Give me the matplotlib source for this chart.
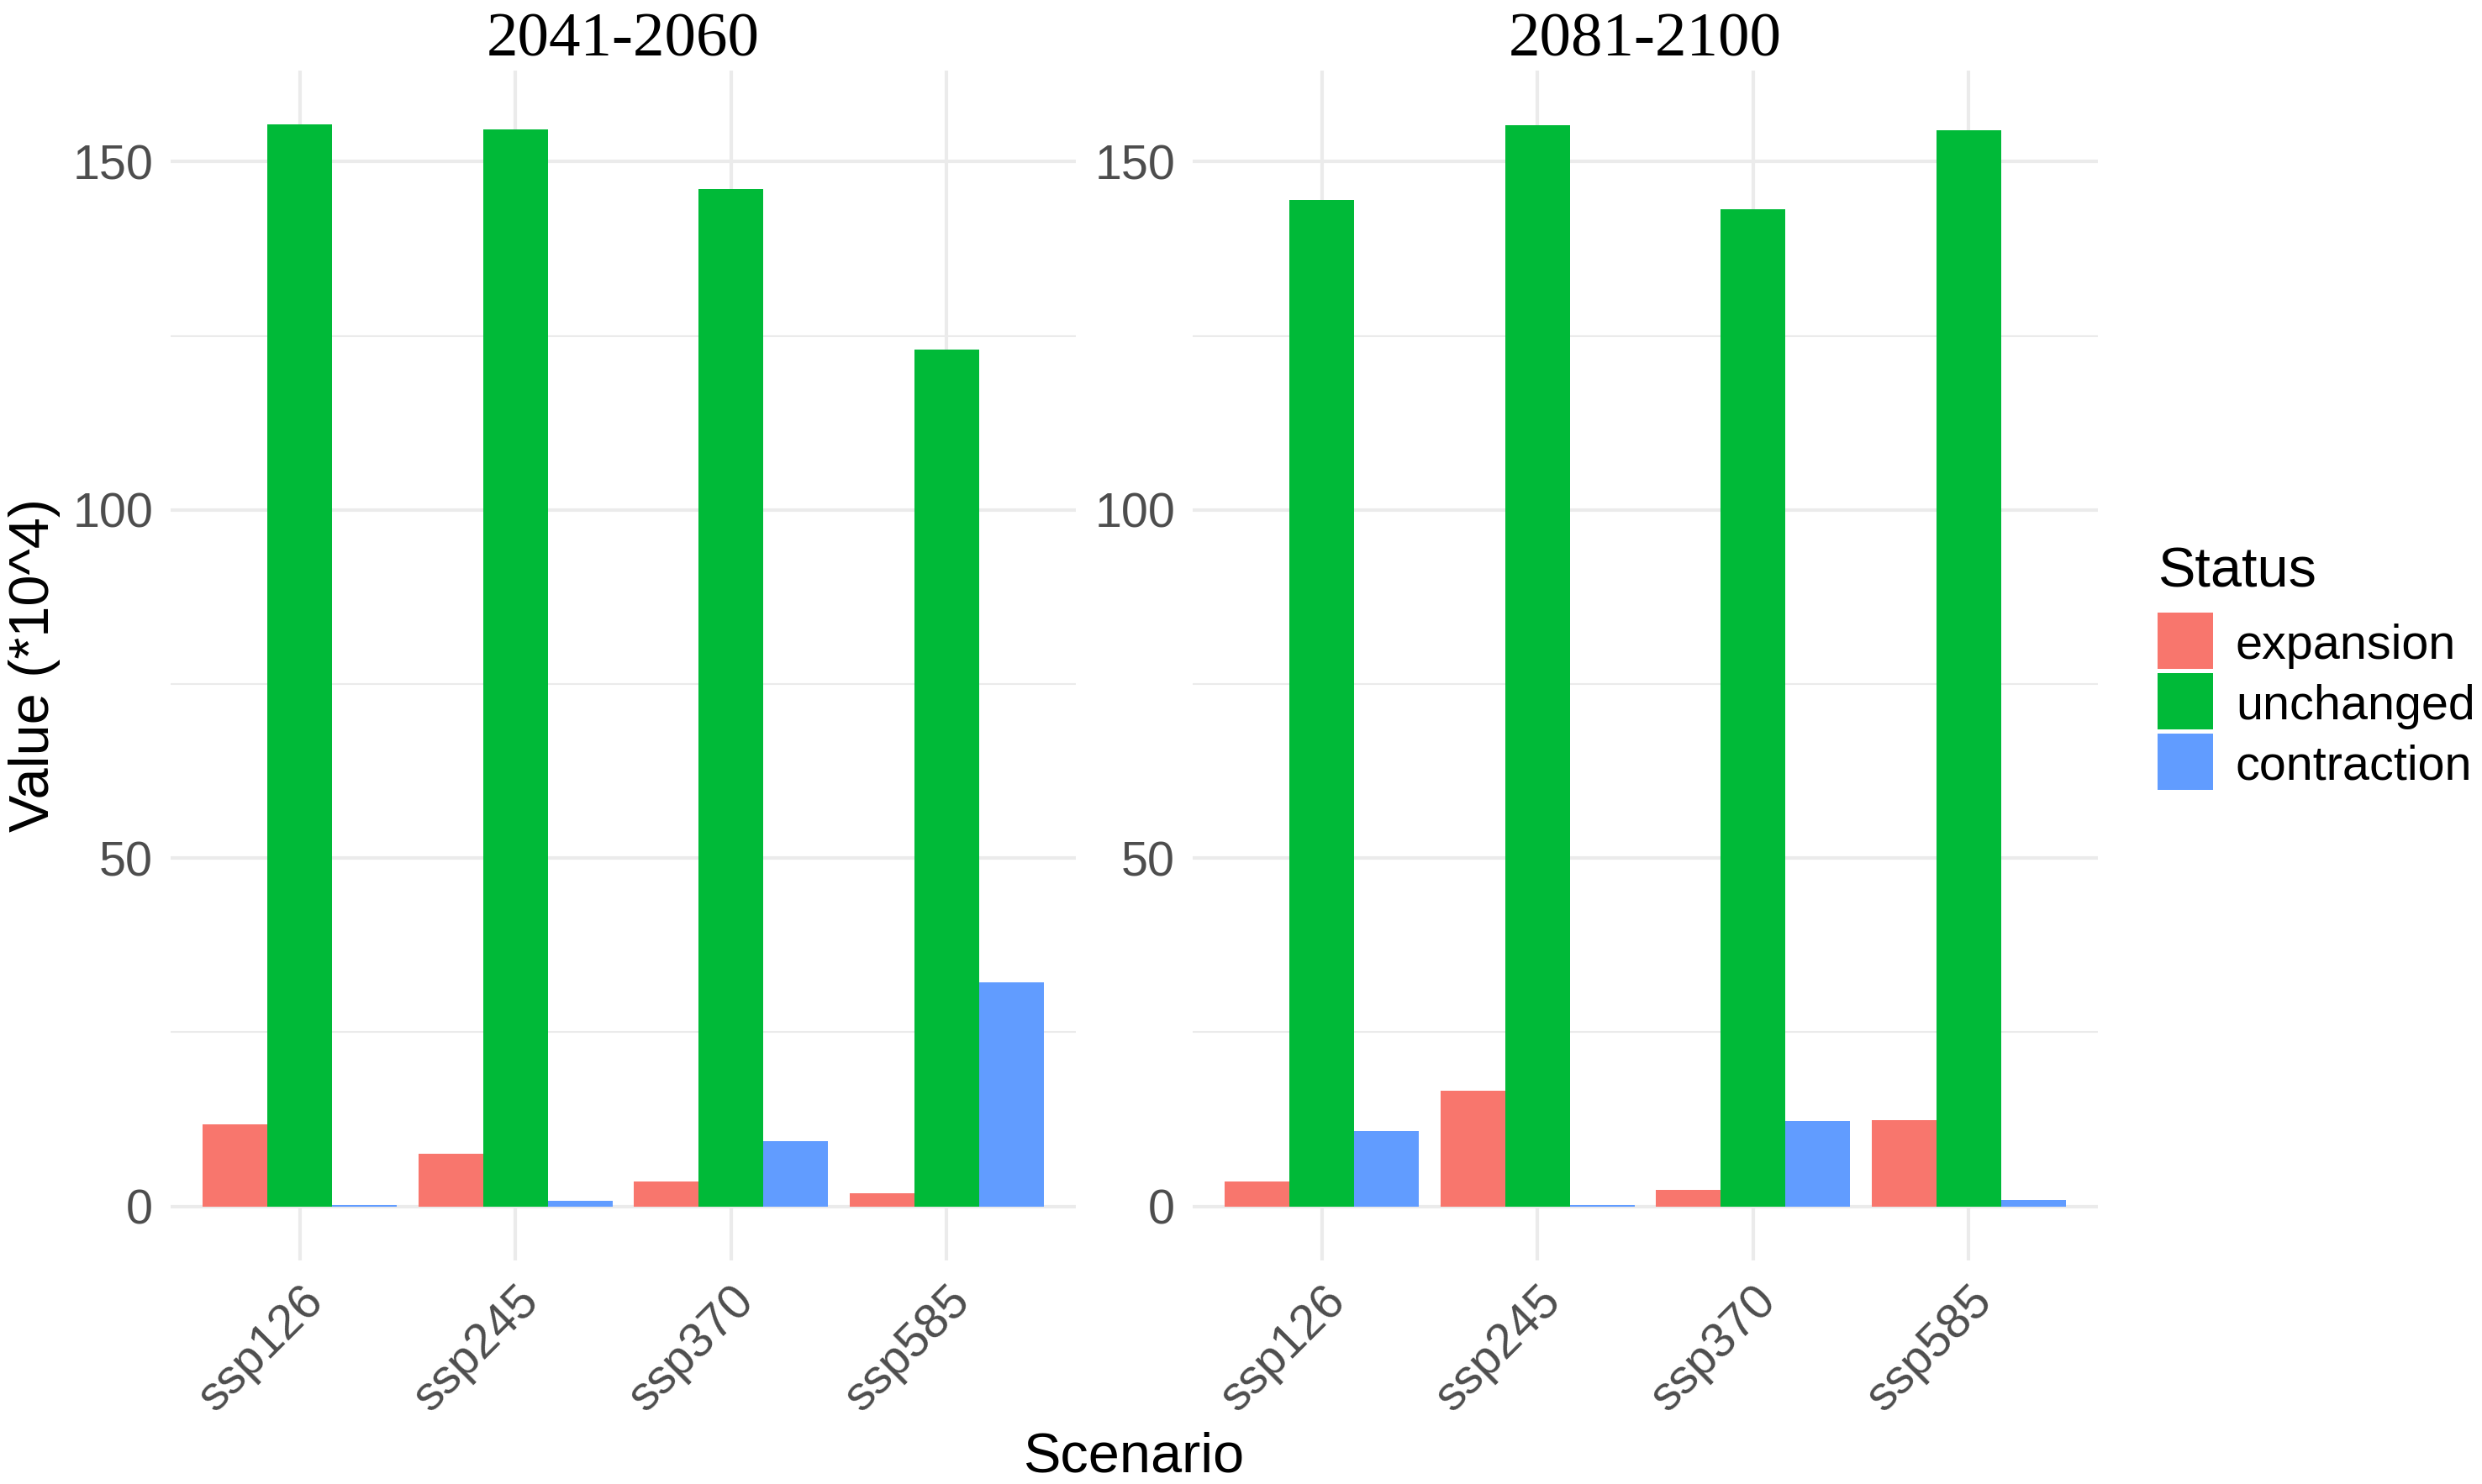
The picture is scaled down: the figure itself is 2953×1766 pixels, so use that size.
import matplotlib
matplotlib.use("Agg")
import matplotlib.pyplot as plt
from matplotlib.patches import Rectangle
import numpy as np

# Дані (одиниці *10^4)
periods = ['2041-2060', '2081-2100']
scenarios = ['ssp126', 'ssp245', 'ssp370', 'ssp585']
statuses = ['expansion', 'unchanged', 'contraction']
colors = ['#F8766D', '#00BA38', '#619CFF']

expansion_2041 = [11.8, 7.5, 3.6, 1.9]
unchanged_2041 = [155.3, 154.6, 146.0, 123.0]
contraction_2041 = [0.2, 0.8, 9.4, 32.2]

expansion_2081 = [3.6, 16.6, 2.35, 12.4]
unchanged_2081 = [144.5, 155.2, 143.2, 154.5]
contraction_2081 = [10.8, 0.15, 12.3, 0.9]

panel_data = [
    [expansion_2041, unchanged_2041, contraction_2041],
    [expansion_2081, unchanged_2081, contraction_2081],
]

W, H = 2953, 1766
fig = plt.figure(figsize=(W / 300, H / 300), dpi=300)

sans = ['Liberation Sans', 'DejaVu Sans']
serif = ['Liberation Serif', 'DejaVu Serif']
grid_col = '#EBEBEB'
tick_col = '#4D4D4D'

ymax = max(max(s) for p in panel_data for s in p)
ylo, yhi = -0.05 * ymax, 1.05 * ymax

panel_left = [203 / W, 1419 / W]
panel_w = 1077 / W
panel_b = 1 - 1500 / H
panel_h = 1416 / H

x = np.arange(len(scenarios))
bw = 0.3

for k, period in enumerate(periods):
    ax = fig.add_axes([panel_left[k], panel_b, panel_w, panel_h])
    ax.set_xlim(-0.6, len(scenarios) - 0.4)
    ax.set_ylim(ylo, yhi)

    # сітка в стилі theme_minimal
    for yv in [25, 75, 125]:
        ax.axhline(yv, color=grid_col, lw=0.5, zorder=0)
    for yv in [0, 50, 100, 150]:
        ax.axhline(yv, color=grid_col, lw=1.0, zorder=0)
    for xv in x:
        ax.axvline(xv, color=grid_col, lw=1.0, zorder=0)

    for j, status in enumerate(statuses):
        ax.bar(x + (j - 1) * bw, panel_data[k][j], width=bw,
               color=colors[j], linewidth=0, zorder=2)

    for sp in ax.spines.values():
        sp.set_visible(False)
    ax.tick_params(length=0)
    ax.set_yticks([0, 50, 100, 150])
    ax.set_yticklabels(['0', '50', '100', '150'], family=sans,
                       fontsize=13.8, color=tick_col)
    ax.tick_params(axis='y', pad=5)
    ax.set_xticks(x)
    ax.set_xticklabels(scenarios, family=sans, fontsize=13.8, color=tick_col,
                       rotation=45, ha='right', va='top', rotation_mode='anchor')
    ax.tick_params(axis='x', pad=5)

    ax.text(0.5, 1.0127, period, transform=ax.transAxes, ha='center',
            va='baseline', family=serif, fontsize=18, color='black')

fig.text(41 / W, 1 - 792 / H, 'Value (*10^4)', rotation=90, ha='center',
         va='center', family=sans, fontsize=16, color='black')
fig.text(1349 / W, 1 - 1734 / H, 'Scenario', ha='center', va='center',
         family=sans, fontsize=16, color='black')

# легенда
fig.text(2567 / W, 1 - 698 / H, 'Status', ha='left', va='baseline',
         family=sans, fontsize=16, color='black')
key_tops = [729, 801, 873]
for j, status in enumerate(statuses):
    top = key_tops[j]
    fig.patches.append(Rectangle((2567 / W, 1 - (top + 67) / H), 66 / W, 67 / H,
                                 transform=fig.transFigure, color=colors[j],
                                 linewidth=0))
    fig.text(2660 / W, 1 - (top + 40) / H, status, ha='left', va='center',
             family=sans, fontsize=13.8, color='black')

fig.savefig('out.png', dpi=300, facecolor='white')
